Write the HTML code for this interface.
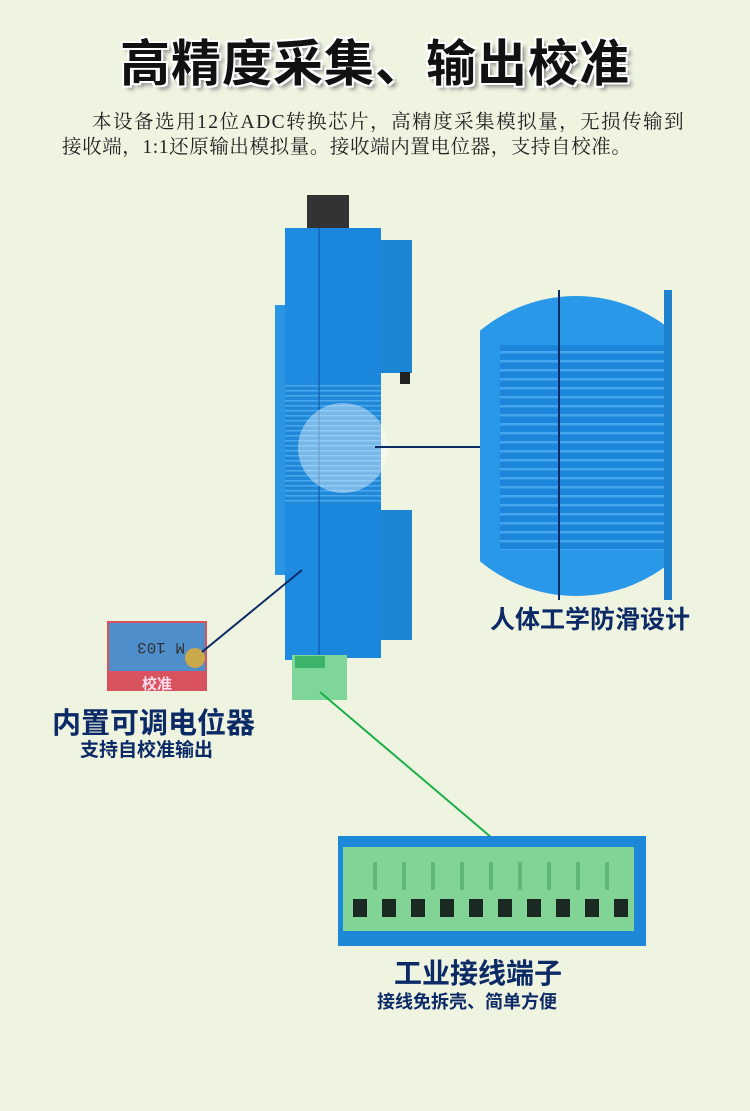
<!DOCTYPE html>
<html><head><meta charset="utf-8"><style>
body{margin:0;width:750px;height:1111px;background:#eff4e1;overflow:hidden;position:relative;font-family:"Liberation Sans","Noto Sans CJK SC",sans-serif}
.t{position:absolute;white-space:nowrap}
</style></head><body>
<div class="t" style="left:0;width:750px;text-align:center;top:24px;font-size:50px;font-weight:bold;color:#111;text-shadow:2px 2px 0 #fff,-2px -2px 0 #fff,2px -2px 0 #fff,-2px 2px 0 #fff,4px 4px 4px #888;letter-spacing:1px">高精度采集、输出校准</div>
<div class="t" style="left:92px;top:106px;font-size:19.5px;letter-spacing:1.5px;color:#222;font-family:'Liberation Serif','Noto Serif CJK SC',serif">本设备选用12位ADC转换芯片，高精度采集模拟量，无损传输到</div>
<div class="t" style="left:62px;top:131px;font-size:19.5px;letter-spacing:0.6px;color:#222;font-family:'Liberation Serif','Noto Serif CJK SC',serif">接收端，1:1还原输出模拟量。接收端内置电位器，支持自校准。</div>
<svg width="750" height="1111" style="position:absolute;left:0;top:0">
<defs>
<clipPath id="c"><rect x="480" y="290" width="192" height="310"/></clipPath>
<pattern id="rib" width="6" height="5" patternUnits="userSpaceOnUse"><rect width="6" height="5" fill="#1f88d8"/><rect width="6" height="1.5" fill="#4aa8ec"/></pattern>
<pattern id="rib2" width="6" height="9" patternUnits="userSpaceOnUse"><rect width="6" height="9" fill="#1b86da"/><rect width="6" height="2.5" fill="#45a6ee"/></pattern>
</defs>
<rect x="307" y="195" width="42" height="38" fill="#333"/>
<rect x="380" y="240" width="32" height="133" fill="#1c85d6"/>
<rect x="380" y="510" width="32" height="130" fill="#1c85d6"/>
<rect x="400" y="372" width="10" height="12" fill="#222"/>
<rect x="275" y="305" width="12" height="270" fill="#2a95e2"/>
<rect x="285" y="228" width="34" height="432" fill="#1e8be0"/>
<rect x="319" y="228" width="62" height="430" fill="#1b87dc"/>
<rect x="285" y="383" width="96" height="120" fill="url(#rib)"/>
<line x1="319" y1="228" x2="319" y2="660" stroke="#0d4f9a" stroke-width="1"/>
<circle cx="343" cy="448" r="45" fill="#fff" opacity="0.4"/>
<rect x="292" y="655" width="55" height="45" fill="#7ed69a"/>
<rect x="295" y="656" width="30" height="12" fill="#3bb46a"/>
<line x1="375" y1="447" x2="481" y2="447" stroke="#0c2a66" stroke-width="2"/>
<g clip-path="url(#c)">
<circle cx="576" cy="446" r="150" fill="#2a98e8"/>
<rect x="500" y="345" width="168" height="205" fill="url(#rib2)"/>
<rect x="664" y="290" width="10" height="310" fill="#1e82cc"/>
<line x1="559" y1="290" x2="559" y2="600" stroke="#0c2a66" stroke-width="2"/>
</g>
<rect x="107" y="621" width="100" height="70" fill="#d9535e"/>
<rect x="109" y="623" width="96" height="48" fill="#4d8ecb"/>
<text x="115" y="653" font-size="16" fill="#333" font-family="Liberation Mono" transform="rotate(180 150 648)">M 103</text>
<circle cx="195" cy="658" r="10" fill="#c9a94a"/>
<text x="142" y="689" font-size="15" font-weight="bold" fill="#fde">校准</text>
<line x1="202" y1="652" x2="302" y2="570" stroke="#0c2a66" stroke-width="2"/>
<line x1="320" y1="692" x2="492" y2="838" stroke="#1ab048" stroke-width="2"/>
<rect x="338" y="836" width="308" height="110" fill="#1e88d8"/>
<rect x="343" y="847" width="291" height="84" fill="#82d496"/>
<g fill="#5fb878">
<rect x="373" y="862" width="4" height="28"/><rect x="402" y="862" width="4" height="28"/><rect x="431" y="862" width="4" height="28"/><rect x="460" y="862" width="4" height="28"/><rect x="489" y="862" width="4" height="28"/><rect x="518" y="862" width="4" height="28"/><rect x="547" y="862" width="4" height="28"/><rect x="576" y="862" width="4" height="28"/><rect x="605" y="862" width="4" height="28"/>
</g>
<g fill="#1a2a22">
<rect x="353" y="899" width="14" height="18"/><rect x="382" y="899" width="14" height="18"/><rect x="411" y="899" width="14" height="18"/><rect x="440" y="899" width="14" height="18"/><rect x="469" y="899" width="14" height="18"/><rect x="498" y="899" width="14" height="18"/><rect x="527" y="899" width="14" height="18"/><rect x="556" y="899" width="14" height="18"/><rect x="585" y="899" width="14" height="18"/><rect x="614" y="899" width="14" height="18"/>
</g>
</svg>
<div class="t" style="left:490px;top:600px;font-size:25px;font-weight:bold;color:#0c2a66">人体工学防滑设计</div>
<div class="t" style="left:52px;top:700px;font-size:29px;font-weight:bold;color:#0c2a66">内置可调电位器</div>
<div class="t" style="left:80px;top:735px;font-size:19px;font-weight:bold;color:#0c2a66">支持自校准输出</div>
<div class="t" style="left:394px;top:952px;font-size:28px;font-weight:bold;color:#0c2a66">工业接线端子</div>
<div class="t" style="left:377px;top:988px;font-size:18px;font-weight:bold;color:#0c2a66">接线免拆壳、简单方便</div>
</body></html>
